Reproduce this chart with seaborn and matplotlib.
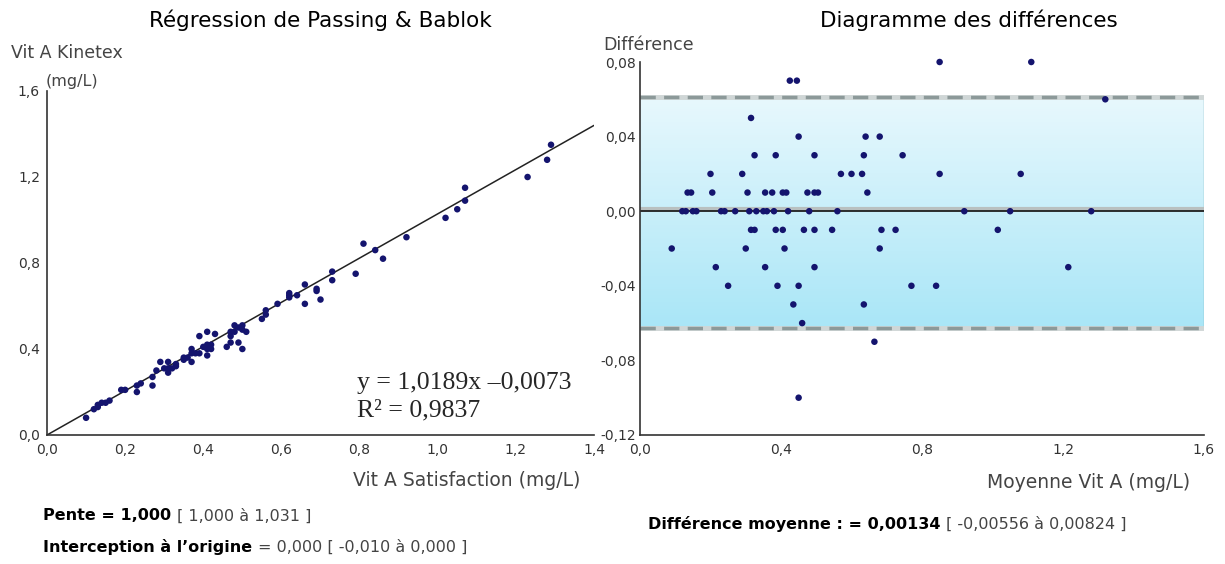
import matplotlib as mpl
mpl.use("Agg")
import matplotlib.pyplot as plt
from matplotlib.colors import LinearSegmentedColormap
import seaborn as sns
import pandas as pd
import numpy as np

# paired measurements (mg/L), Satisfaction vs Kinetex
satisfaction = [0.81, 1.07, 0.39, 0.41, 1.29, 0.29, 0.43, 0.62, 0.66, 0.31, 0.37, 0.48, 0.62, 0.73,
                0.19, 0.28, 0.56, 0.59, 0.62, 0.84, 1.07, 0.13, 0.14, 0.20, 0.30, 0.35, 0.37, 0.40,
                0.41, 0.47, 0.49, 0.50, 0.64, 0.12, 0.13, 0.15, 0.16, 0.23, 0.24, 0.27, 0.31, 0.33,
                0.35, 0.36, 0.38, 0.42, 0.48, 0.56, 0.92, 1.05, 1.28, 0.32, 0.33, 0.39, 0.41, 0.47,
                0.50, 0.55, 0.69, 0.73, 1.02, 0.10, 0.31, 0.42, 0.69, 0.23, 0.37, 0.51, 1.23, 0.27,
                0.41, 0.47, 0.79, 0.86, 0.46, 0.66, 0.49, 0.70, 0.50]
kinetex = [0.89, 1.15, 0.46, 0.48, 1.35, 0.34, 0.47, 0.66, 0.70, 0.34, 0.40, 0.51, 0.65, 0.76,
           0.21, 0.30, 0.58, 0.61, 0.64, 0.86, 1.09, 0.14, 0.15, 0.21, 0.31, 0.36, 0.38, 0.41,
           0.42, 0.48, 0.50, 0.51, 0.65, 0.12, 0.13, 0.15, 0.16, 0.23, 0.24, 0.27, 0.31, 0.33,
           0.35, 0.36, 0.38, 0.42, 0.48, 0.56, 0.92, 1.05, 1.28, 0.31, 0.32, 0.38, 0.40, 0.46,
           0.49, 0.54, 0.68, 0.72, 1.01, 0.08, 0.29, 0.40, 0.67, 0.20, 0.34, 0.48, 1.20, 0.23,
           0.37, 0.43, 0.75, 0.82, 0.41, 0.61, 0.43, 0.63, 0.40]

# regression line as drawn (x range 0..1.4)
reg_x = [0.0, 1.4]
reg_y = [0.0, 1.44]

mean_diff = 0.00134
loa_low, loa_high = -0.0625, 0.0615

left_xticks = [0.0, 0.2, 0.4, 0.6, 0.8, 1.0, 1.2, 1.4]
left_yticks = [0.0, 0.4, 0.8, 1.2, 1.6]
right_xticks = [0.0, 0.4, 0.8, 1.2, 1.6]
right_yticks = [-0.12, -0.08, -0.04, 0.0, 0.04, 0.08]

df = pd.DataFrame({'Satisfaction': satisfaction, 'Kinetex': kinetex})
df['Moyenne'] = (df['Satisfaction'] + df['Kinetex']) / 2
df['Difference'] = df['Kinetex'] - df['Satisfaction']

sns.set_style("white")
mpl.rcParams['font.family'] = ['DejaVu Sans']
mpl.rcParams['lines.scale_dashes'] = False

W, H = 1225, 564
fig = plt.figure(figsize=(W / 100, H / 100), dpi=100)

def px(x0, y0, x1, y1):
    return [x0 / W, 1 - y1 / H, (x1 - x0) / W, (y1 - y0) / H]

ax1 = fig.add_axes(px(47, 91, 594, 435))
ax2 = fig.add_axes(px(640, 62, 1204, 435))

dot = '#14146e'
tick_col = '#333333'

def comma(v, dec):
    return f"{v:.{dec}f}".replace('.', ',')

# ---- left: Passing & Bablok ----
sns.lineplot(x=reg_x, y=reg_y, ax=ax1, color='#222222', lw=1.1, zorder=2)
sns.scatterplot(data=df, x='Satisfaction', y='Kinetex', ax=ax1, color=dot, s=22,
                edgecolor='none', zorder=3, legend=False, clip_on=False)
ax1.set_xlim(0, 1.4)
ax1.set_ylim(0, 1.6)
ax1.set_xticks(left_xticks)
ax1.set_xticklabels([comma(v, 1) for v in left_xticks])
ax1.set_yticks(left_yticks)
ax1.set_yticklabels([comma(v, 1) for v in left_yticks])
ax1.tick_params(axis='x', direction='in', length=3, pad=6, labelsize=10, colors=tick_col)
ax1.tick_params(axis='y', direction='in', length=3, pad=5, labelsize=10, colors=tick_col)
ax1.set_xlabel('')
ax1.set_ylabel('')

# ---- right: difference plot ----
band_cmap = LinearSegmentedColormap.from_list('band', ['#a9e6f7', '#e8f8fd'])
ax2.imshow(np.linspace(0, 1, 256).reshape(-1, 1), cmap=band_cmap, origin='lower',
           extent=[right_xticks[0], right_xticks[-1], loa_low, loa_high], aspect='auto', zorder=0)
ax2.vlines(right_xticks[-1], loa_low, loa_high, color='#7fb3bb', lw=1, zorder=1)
for lim in (loa_low, loa_high):
    ax2.hlines(lim, right_xticks[0], right_xticks[-1], color='#cfd6d6', lw=3.5, zorder=1)
    ax2.hlines(lim, right_xticks[0], right_xticks[-1], color='#8c9999', lw=2.5,
               linestyles=(0, (11, 6)), zorder=1)
ax2.axhline(mean_diff, color='#b9c0c0', lw=3, zorder=1)
ax2.axhline(0, color='#1f1f1f', lw=1.3, zorder=2)
sns.scatterplot(data=df, x='Moyenne', y='Difference', ax=ax2, color=dot, s=22,
                edgecolor='none', zorder=3, legend=False, clip_on=False)
ax2.set_xlim(0, 1.6)
ax2.set_ylim(-0.12, 0.08)
ax2.set_xticks(right_xticks)
ax2.set_xticklabels([comma(v, 1) for v in right_xticks])
ax2.set_yticks(right_yticks)
ax2.set_yticklabels([comma(v, 2) for v in right_yticks])
ax2.tick_params(axis='x', direction='in', length=3, pad=6, labelsize=10, colors=tick_col)
ax2.tick_params(axis='y', direction='out', length=3, pad=0, labelsize=10, colors=tick_col)
ax2.set_xlabel('')
ax2.set_ylabel('')

for ax in (ax1, ax2):
    sns.despine(ax=ax)
    for s in ('left', 'bottom'):
        ax.spines[s].set_color('#333333')
        ax.spines[s].set_linewidth(1.2)

# ---- texts ----
def ft(x, y, s, **kw):
    return fig.text(x / W, 1 - y / H, s, **kw)

ft(320, 20, 'Régression de Passing & Bablok', ha='center', va='center', fontsize=15.5, color='black')
ft(969, 20, 'Diagramme des différences', ha='center', va='center', fontsize=15.5, color='black')
ft(67, 53, 'Vit A Kinetex', ha='center', va='center', fontsize=12.5, color='#444444')
ft(72, 82, '(mg/L)', ha='center', va='center', fontsize=11.5, color='#444444')
ft(603, 45, 'Différence', ha='left', va='center', fontsize=12.5, color='#444444')
ft(580, 480, 'Vit A Satisfaction (mg/L)', ha='right', va='center', fontsize=13.5, color='#444444')
ft(1190, 483, 'Moyenne Vit A (mg/L)', ha='right', va='center', fontsize=13.5, color='#444444')

ft(357, 383, 'y = 1,0189x –0,0073', ha='left', va='center', fontsize=18.5,
   family=['Liberation Serif', 'DejaVu Serif'])
ft(357, 410, 'R² = 0,9837', ha='left', va='center', fontsize=18.5,
   family=['Liberation Serif', 'DejaVu Serif'])

def two_part(x, y, bold, rest):
    t = ft(x, y, bold, ha='left', va='center', fontsize=11.5, weight='bold', color='black')
    ax1.annotate(rest, xy=(1, 0.5), xycoords=t, xytext=(4, 0), textcoords='offset points',
                 ha='left', va='center', fontsize=11.5, color='#444444', annotation_clip=False)

two_part(43, 516, 'Pente = 1,000', '[ 1,000 à 1,031 ]')
two_part(43, 547, 'Interception à l’origine', '= 0,000 [ -0,010 à 0,000 ]')
two_part(648, 524, 'Différence moyenne : = 0,00134', '[ -0,00556 à 0,00824 ]')

fig.savefig('out.png', dpi=100)
